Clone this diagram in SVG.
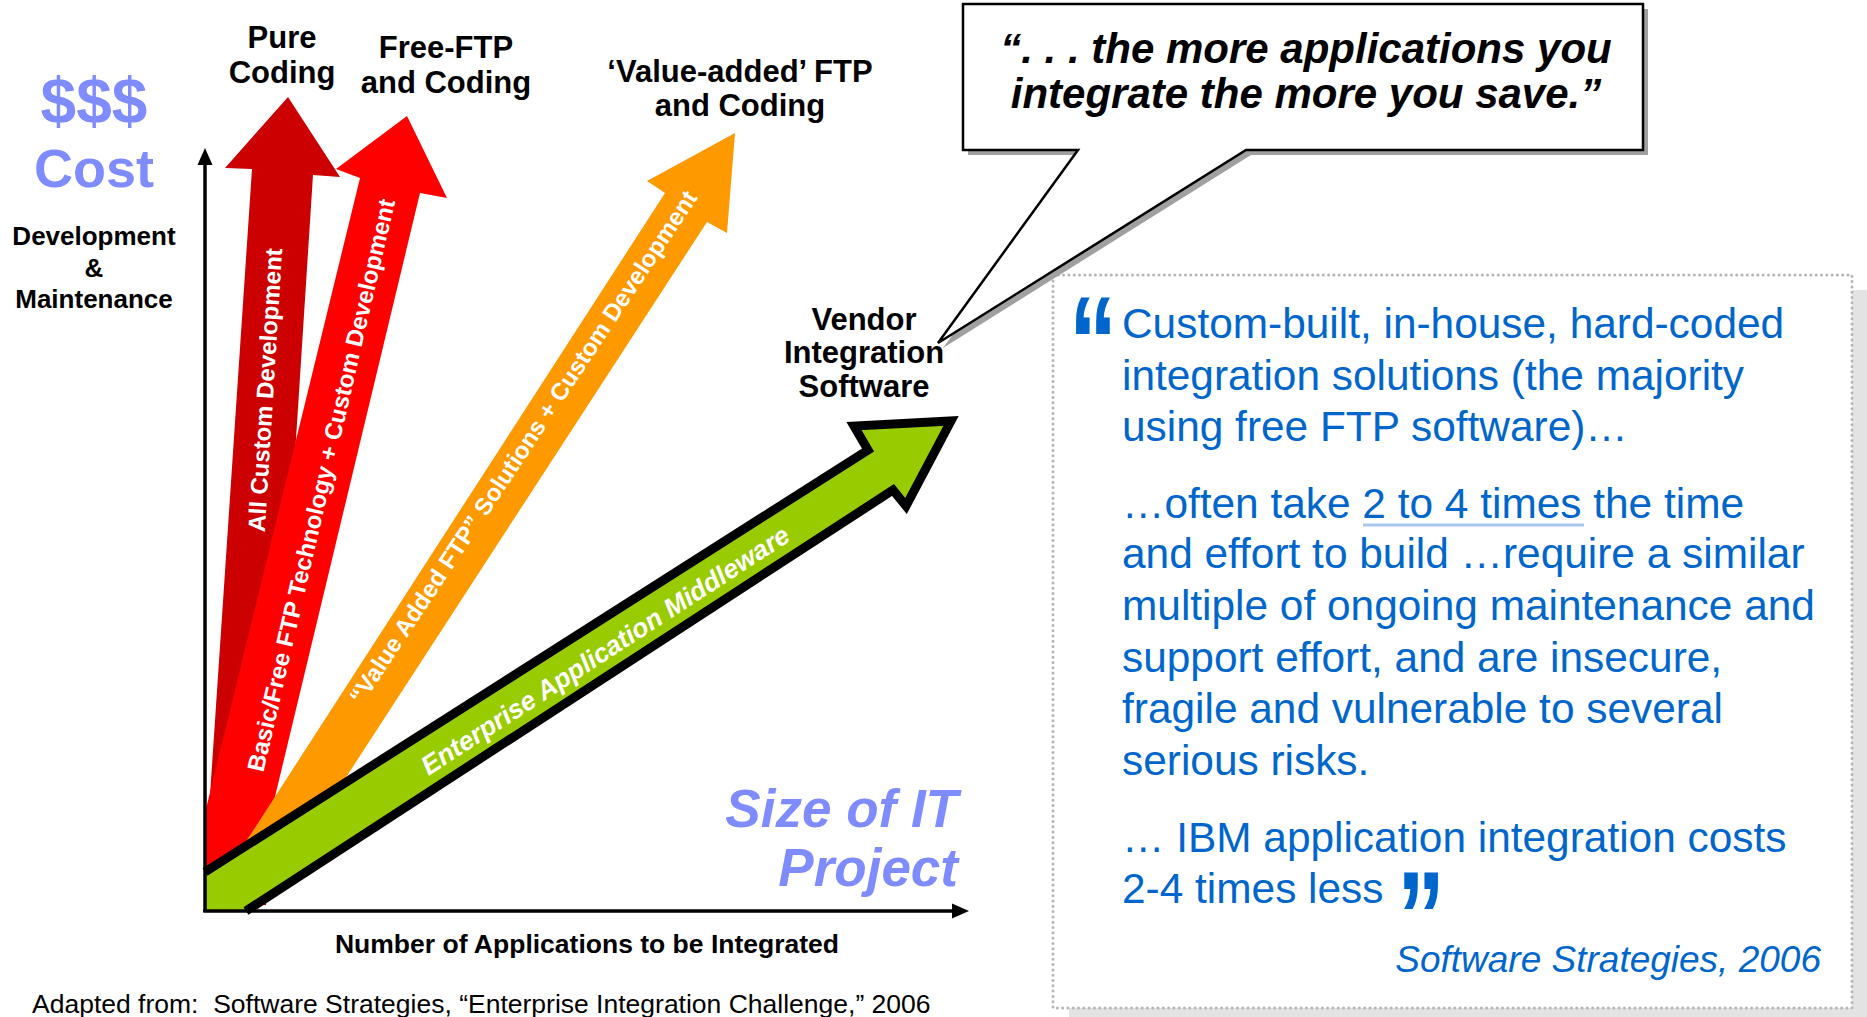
<svg xmlns="http://www.w3.org/2000/svg" width="1867" height="1017" viewBox="0 0 1867 1017">
<defs>
<style>
text{font-family:"Liberation Sans",Arial,Helvetica,sans-serif;}
.lbl{font-weight:bold;font-size:31px;fill:#000;text-anchor:middle;}
.yl{font-weight:bold;font-size:26px;fill:#000;text-anchor:middle;}
.peri{font-weight:bold;fill:#7F8CFF;}
.atx{font-weight:bold;fill:#fff;text-anchor:middle;}
.blue{fill:#0066CC;}
.quote{font-weight:bold;font-style:italic;font-size:42px;fill:#000;text-anchor:middle;}
.axis{stroke:#000;stroke-width:3.5;fill:none;}
</style>
</defs>
<rect width="1867" height="1017" fill="#fff"/>

<g id="cost-label">
<text class="peri" x="94" y="123" style="font-size:64px" text-anchor="middle">$$$</text>
<text class="peri" x="94" y="187" style="font-size:54px" text-anchor="middle">Cost</text>
<text class="yl" x="94" y="245">Development</text>
<text class="yl" x="94" y="277">&amp;</text>
<text class="yl" x="94" y="308">Maintenance</text>
</g>

<g id="arrow-pure-coding">
<polygon points="252,169 225,168 288,97 340,177 313,175 266,905 205,905 205,870" fill="#CC0000"/>
<text class="atx" style="font-size:24px" transform="translate(265,390) rotate(-86.5)" y="8.5">All Custom Development</text>
<text class="lbl" x="282" y="48">Pure</text>
<text class="lbl" x="282" y="83">Coding</text>
</g>

<g id="arrow-free-ftp">
<polygon points="360,178 336,169 407,116 447,198 420,193 249,905 205,905 205,813" fill="#FF0000"/>
<text class="atx" style="font-size:24px" transform="translate(321,485) rotate(-77)" y="8.5">Basic/Free FTP Technology + Custom Development</text>
<text class="lbl" x="446" y="58">Free-FTP</text>
<text class="lbl" x="446" y="93">and Coding</text>
</g>

<g id="arrow-value-added">
<polygon points="665,193 647,181 735,133 727,233 707,222 263,905 205,905" fill="#FF9900"/>
<text class="atx" style="font-size:24px" transform="translate(523,447) rotate(-56.5)" y="8.5">“Value Added FTP” Solutions + Custom Development</text>
<text class="lbl" x="740" y="82">‘Value-added’ FTP</text>
<text class="lbl" x="740" y="116">and Coding</text>
</g>

<g id="arrow-vendor">
<polygon points="205,911 205,872 868,450 854,426 951,421 906,506 893,490 246,911" fill="#99CC00"/>
<polyline points="205,872 868,450 854,426 951,421 906,506 893,490 246,911" fill="none" stroke="#000" stroke-width="9" stroke-linejoin="miter"/>
<text class="atx" style="font-size:26.5px;font-style:italic" transform="translate(605,650) rotate(-33)" y="9.5">Enterprise Application Middleware</text>
<text class="lbl" x="864" y="330">Vendor</text>
<text class="lbl" x="864" y="363">Integration</text>
<text class="lbl" x="864" y="397">Software</text>
</g>

<g id="connectors">
<line class="axis" x1="205" y1="912" x2="205" y2="162"/>
<polygon points="205,148 197.5,165 212.5,165" fill="#000"/>
<line class="axis" x1="203.3" y1="911" x2="954" y2="911"/>
<polygon points="969,911 952,903.5 952,918.5" fill="#000"/>
</g>

<g id="x-label">
<text class="yl" x="587" y="953" style="font-size:26.5px">Number of Applications to be Integrated</text>
<text class="peri" x="958" y="827" style="font-size:53px;font-style:italic" text-anchor="end">Size of IT</text>
<text class="peri" x="958" y="886" style="font-size:53px;font-style:italic" text-anchor="end">Project</text>
</g>

<g id="quote-box">
<rect x="1069" y="290" width="800" height="735" fill="#E3E3E3"/>
<rect x="1053" y="275" width="799" height="733" fill="#fff" stroke="#B5B5B5" stroke-width="3" stroke-dasharray="0 5.3" stroke-linecap="round"/>
<text class="blue" style="font-size:130px;font-weight:bold" transform="translate(1069,387) scale(0.74,1)">“</text>
<g style="font-size:42.4px">
<text class="blue" x="1122" y="338">Custom-built, in-house, hard-coded</text>
<text class="blue" x="1122" y="390">integration solutions (the majority</text>
<text class="blue" x="1122" y="441">using free FTP software)…</text>
<text class="blue" x="1122" y="518">…often take 2 to 4 times the time</text>
<text class="blue" x="1122" y="568">and effort to build …require a similar</text>
<text class="blue" x="1122" y="620">multiple of ongoing maintenance and</text>
<text class="blue" x="1122" y="672">support effort, and are insecure,</text>
<text class="blue" x="1122" y="723">fragile and vulnerable to several</text>
<text class="blue" x="1122" y="775">serious risks.</text>
<text class="blue" x="1122" y="852">… IBM application integration costs</text>
<text class="blue" x="1122" y="903">2-4 times less</text>
</g>
<line x1="1363" y1="525" x2="1584" y2="525" stroke="#A8C8EE" stroke-width="3"/>
<text class="blue" style="font-size:130px;font-weight:bold" transform="translate(1397,962) scale(0.74,1)">”</text>
<text class="blue" x="1821" y="972" style="font-size:37px;font-style:italic" text-anchor="end">Software Strategies, 2006</text>
</g>

<g id="callout">
<path d="M963,4 H1643 V150 H1246 L938,343 L1078,150 H963 Z" transform="translate(5,5)" fill="#A0A0A0"/>
<path d="M963,4 H1643 V150 H1246 L938,343 L1078,150 H963 Z" fill="#fff" stroke="#000" stroke-width="2.5" stroke-linejoin="miter"/>
<text class="quote" x="1306" y="63">“. . . the more applications you</text>
<text class="quote" x="1306" y="108">integrate the more you save.”</text>
</g>

<g id="source">
<text x="32" y="1013" style="font-size:26.5px" fill="#000">Adapted from:&#160; Software Strategies, “Enterprise Integration Challenge,” 2006</text>
</g>
</svg>
